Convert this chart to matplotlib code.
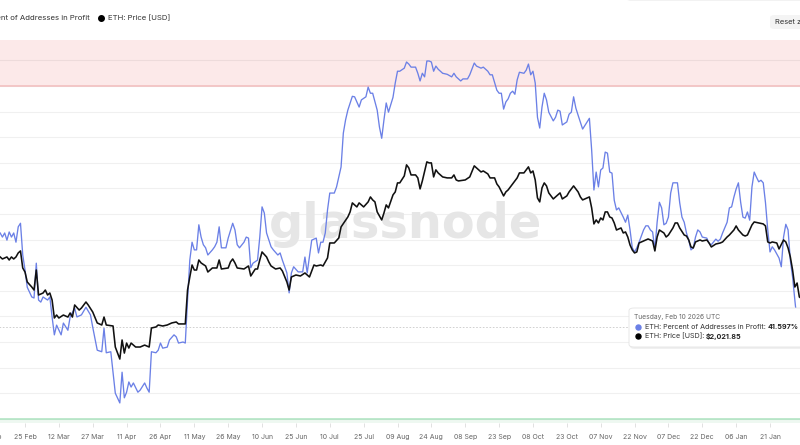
import matplotlib
matplotlib.use("Agg")
import matplotlib.pyplot as plt
from matplotlib.patches import FancyBboxPatch
from matplotlib.lines import Line2D
import pandas as pd

# ---------------- data ----------------
start_date = "2025-02-14"

blue_day = [0, 1, 2, 3, 4, 5, 6, 7, 8, 9, 10, 11, 12, 14, 15, 16, 17, 18, 19, 21, 22, 23, 24, 25, 27, 28, 30, 31, 33, 34,
            36, 38, 40, 41, 43, 45, 46, 47, 49, 50, 51, 53, 54, 55, 56, 57, 58, 59, 61, 62, 64, 65, 66, 67, 69, 70, 71, 72,
            74, 75, 77, 78, 79, 81, 82, 83, 84, 85, 86, 87, 88, 89, 90, 91, 92, 94, 95, 96, 97, 98, 100, 101, 103, 104, 105,
            106, 108, 109, 110, 111, 112, 114, 115, 116, 117, 118, 120, 121, 123, 124, 125, 127, 128, 129, 130, 132, 134,
            135, 136, 138, 140, 141, 142, 143, 144, 145, 146, 148, 149, 151, 152, 153, 154, 156, 157, 159, 160, 162, 163,
            164, 165, 167, 168, 169, 170, 171, 172, 174, 175, 176, 177, 179, 180, 181, 182, 184, 185, 186, 187, 188, 189,
            190, 191, 192, 193, 194, 196, 198, 200, 201, 202, 203, 204, 205, 207, 208, 210, 211, 213, 214, 216, 217, 218,
            220, 221, 222, 223, 224, 225, 226, 227, 228, 229, 230, 232, 233, 234, 235, 236, 237, 238, 239, 240, 241, 242,
            243, 245, 246, 247, 248, 249, 251, 252, 253, 254, 255, 256, 258, 260, 261, 262, 263, 264, 265, 266, 267, 268,
            269, 270, 271, 272, 273, 274, 276, 277, 278, 279, 280, 281, 282, 283, 285, 286, 287, 288, 289, 290, 291, 292,
            293, 294, 295, 296, 297, 298, 300, 301, 302, 303, 304, 305, 306, 307, 308, 309, 310, 311, 313, 314, 315, 317,
            318, 319, 320, 322, 323, 324, 325, 326, 327, 328, 329, 330, 331, 332, 333, 334, 335, 336, 337, 338, 339, 340,
            341, 342, 343, 345, 346, 347, 348, 349, 350, 351, 352, 353, 361]
blue_pct = [61.3, 60.5, 61.3, 59.9, 61.5, 60.5, 61.3, 59.5, 62.5, 63.2, 57.0, 54.1, 50.7, 48.8, 48.6, 55.4, 48.2, 47.8,
            48.8, 48.2, 48.8, 44.9, 41.4, 43.3, 41.4, 43.7, 42.3, 44.9, 46.6, 44.9, 45.3, 46.8, 45.3, 42.9, 38.4, 38.1,
            42.7, 37.9, 38.1, 34.0, 30.0, 28.1, 34.1, 29.1, 30.2, 32.2, 31.2, 32.0, 30.2, 30.6, 32.0, 31.0, 30.2, 38.1,
            37.9, 38.4, 39.8, 38.8, 39.0, 40.4, 41.4, 41.0, 39.8, 40.0, 39.8, 48.2, 56.0, 59.5, 58.0, 58.0, 62.9, 60.5,
            59.0, 58.4, 57.0, 58.0, 58.6, 59.5, 62.5, 58.4, 58.4, 60.3, 63.2, 61.9, 59.0, 58.4, 59.5, 60.5, 60.3, 54.5,
            55.4, 56.0, 60.5, 66.4, 65.2, 61.3, 58.6, 58.0, 57.0, 57.4, 56.0, 53.5, 49.6, 53.5, 54.7, 53.7, 53.7, 56.6,
            53.5, 59.9, 60.3, 57.4, 59.5, 59.5, 61.3, 65.8, 69.1, 69.1, 70.3, 74.2, 80.8, 83.4, 85.3, 88.0, 87.9, 85.9,
            87.3, 87.9, 89.8, 88.6, 88.6, 85.3, 82.0, 79.8, 83.4, 86.7, 84.9, 87.8, 90.6, 92.9, 92.9, 93.5, 94.7, 94.3,
            93.7, 93.7, 92.5, 91.0, 92.5, 91.8, 94.9, 94.9, 94.7, 92.9, 93.9, 93.3, 92.5, 92.3, 91.8, 92.5, 91.8, 91.4,
            91.0, 91.4, 91.4, 92.2, 94.5, 93.9, 93.5, 93.7, 92.9, 92.2, 92.2, 89.2, 88.6, 88.6, 85.5, 86.9, 87.5, 88.6,
            89.0, 88.4, 91.2, 92.7, 92.5, 93.1, 94.3, 92.2, 92.9, 90.6, 83.9, 81.8, 85.9, 88.6, 87.3, 84.9, 83.2, 83.9,
            85.3, 85.1, 82.4, 83.0, 84.5, 84.9, 87.9, 85.7, 84.3, 81.6, 83.0, 83.7, 77.5, 69.7, 73.2, 70.3, 73.6, 74.0,
            77.1, 76.9, 73.2, 73.0, 67.7, 65.8, 66.2, 64.4, 63.4, 64.8, 61.9, 58.4, 57.6, 58.4, 59.5, 61.9, 62.7, 62.7,
            61.9, 61.5, 58.0, 63.4, 67.3, 66.2, 62.9, 63.2, 64.4, 69.1, 71.1, 71.1, 67.2, 64.4, 63.4, 61.3, 59.9, 58.0,
            58.4, 60.5, 61.9, 61.5, 60.5, 60.3, 59.3, 59.0, 60.1, 59.7, 60.1, 61.3, 63.4, 66.2, 66.4, 68.3, 69.9, 71.1,
            67.3, 64.4, 64.2, 65.4, 63.8, 70.3, 73.2, 72.2, 71.3, 71.6, 71.1, 67.2, 61.9, 57.6, 58.6, 58.0, 56.4, 54.7,
            60.5, 63.0, 61.9, 56.0, 52.7, 48.2, 44.0, 41.597]

price_day = [0, 1, 3, 4, 5, 6, 7, 8, 9, 10, 11, 12, 14, 15, 16, 17, 19, 20, 21, 22, 23, 24, 25, 26, 28, 30, 31, 32, 33,
             35, 36, 38, 39, 41, 43, 45, 46, 47, 50, 51, 53, 54, 55, 56, 57, 58, 60, 62, 64, 66, 67, 69, 70, 72, 74, 76,
             78, 79, 82, 83, 84, 85, 86, 87, 88, 89, 91, 92, 94, 96, 97, 98, 101, 102, 103, 104, 105, 108, 110, 111, 113,
             114, 115, 116, 118, 119, 120, 122, 124, 125, 127, 128, 129, 131, 133, 135, 137, 139, 140, 142, 143, 145, 146,
             148, 150, 151, 154, 155, 156, 158, 159, 161, 163, 164, 165, 166, 167, 169, 170, 171, 172, 174, 175, 176, 177,
             179, 180, 181, 182, 184, 185, 186, 187, 189, 190, 191, 192, 193, 194, 196, 198, 200, 201, 202, 203, 206, 208,
             210, 211, 213, 214, 216, 217, 219, 220, 221, 223, 224, 225, 227, 229, 230, 232, 233, 234, 235, 236, 237, 238,
             239, 240, 241, 242, 243, 245, 247, 248, 249, 251, 252, 254, 256, 257, 258, 260, 261, 262, 263, 264, 265, 266,
             267, 268, 269, 270, 271, 272, 273, 275, 276, 277, 278, 279, 280, 281, 282, 283, 285, 287, 288, 289, 290, 291,
             292, 294, 295, 296, 298, 299, 300, 301, 303, 304, 305, 306, 307, 308, 310, 311, 313, 314, 315, 317, 319, 320,
             322, 323, 325, 326, 327, 329, 330, 331, 333, 334, 336, 338, 339, 340, 341, 342, 344, 345, 347, 348, 349, 350,
             351, 352, 353, 354, 361]
price_usd = [2759, 2725, 2759, 2708, 2759, 2725, 2759, 2828, 2863, 2578, 2515, 2365, 2293, 2251, 2546, 2183, 2210, 2251,
             2183, 2210, 2117, 1895, 1930, 1895, 1930, 1906, 1954, 1906, 2053, 1990, 2015, 2091, 2053, 1966, 1838, 1815,
             1906, 1815, 1804, 1585, 1472, 1655, 1527, 1624, 1575, 1624, 1585, 1585, 1604, 1585, 1782, 1793, 1815, 1804,
             1815, 1838, 1849, 1827, 1827, 2251, 2439, 2626, 2546, 2546, 2708, 2659, 2610, 2515, 2578, 2578, 2708, 2562,
             2578, 2675, 2725, 2659, 2578, 2562, 2610, 2454, 2562, 2562, 2708, 2845, 2759, 2675, 2610, 2562, 2578, 2531,
             2365, 2251, 2439, 2469, 2454, 2500, 2439, 2626, 2610, 2626, 2610, 2742, 3007, 3007, 3101, 3319, 3529, 3640,
             3848, 3754, 3848, 3754, 3872, 3992, 3919, 3872, 3640, 3465, 3617, 3801, 3731, 4042, 4117, 4352, 4352, 4543,
             4863, 4773, 4571, 4571, 4488, 4194, 4405, 4953, 4922, 4922, 4515, 4715, 4628, 4515, 4488, 4488, 4571, 4432,
             4405, 4432, 4515, 4833, 4773, 4655, 4684, 4600, 4488, 4488, 4325, 4246, 4017, 4117, 4168, 4325, 4488, 4628,
             4628, 4715, 4803, 4628, 4684, 4432, 3967, 3872, 4220, 4352, 4272, 4092, 3943, 4042, 4092, 3943, 4017, 4117,
             4272, 4117, 3992, 3919, 3967, 3992, 3731, 3381, 3465, 3401, 3507, 3465, 3640, 3640, 3529, 3507, 3401, 3257,
             3298, 3198, 3218, 3120, 2970, 2880, 2828, 2845, 3007, 3044, 3082, 3063, 3044, 2863, 3120, 3257, 3198, 3120,
             3158, 3298, 3401, 3401, 3298, 3158, 3139, 3063, 2934, 2916, 3026, 3063, 3044, 3063, 3007, 2934, 2988, 3007,
             3026, 3120, 3158, 3257, 3339, 3257, 3158, 3139, 3158, 3360, 3422, 3401, 3381, 3339, 3026, 3007, 3026, 3007,
             2898, 3063, 3026, 2916, 2759, 2546, 2293, 2350, 2156, 2021.85]

series_pct_name = "ETH: Percent of Addresses in Profit"
series_price_name = "ETH: Price [USD]"
tick_start = "2025-02-10"
tick_every_days = 15
tick_count = 24
red_zone = (90, 100)
green_level = 25
grid_levels = list(range(25, 100, 5))
hover_title = "Tuesday, Feb 10 2026 UTC"
hover_pct_text = "41.597%"
hover_price_text = "$2,021.85"
hover_line_pct = 42.9

# ---------------- styling ----------------
W, H = 800, 445
BLUE = "#6b80e6"
BLACK = "#111111"
FONT = "Inter"
TIP_FS = 5.15


def fx(px):
    return px / W


def fy(py):
    return 1 - py / H


fig = plt.figure(figsize=(W / 100, H / 100), dpi=100)
fig.patch.set_facecolor("white")

# the reference is a crop, so the axes runs a little past both picture edges
ax = fig.add_axes([fx(-20), fy(423), 840 / W, 383 / H])
ax.patch.set_alpha(0)

base = pd.Timestamp(start_date)
px_per_day = 2.2576
x0_day = 0.166
left = base + pd.Timedelta(days=(-20 - x0_day) / px_per_day)
right = base + pd.Timedelta(days=(820 - x0_day) / px_per_day)

blue_dates = base + pd.to_timedelta(blue_day, unit="D")
price_dates = base + pd.to_timedelta(price_day, unit="D")

ax.set_xlim(left, right)
ax.set_ylim(24.18, 99.0)

# zones
ax.axhspan(red_zone[0], red_zone[1], color="#fce9e9", zorder=0.1, lw=0)
ax.axhline(red_zone[0], color="#f2bcbc", lw=1.1, zorder=0.8)
ax.axhspan(0, green_level, color="#eef8f1", zorder=0.1, lw=0)
ax.axhline(green_level, color="#ace3c0", lw=1.1, zorder=0.8)

ax.set_yticks(grid_levels)
ax.yaxis.grid(True, color="black", alpha=0.06, lw=0.8, zorder=0.5)
ax.set_axisbelow(True)
ax.tick_params(axis="y", left=False, labelleft=False)
for s in ax.spines.values():
    s.set_visible(False)

ax.axhline(hover_line_pct, xmax=(629 + 20) / 840, color="#c9c9c9", lw=0.6, ls=(0, (2, 2)), zorder=0.9)

ticks = pd.date_range(tick_start, periods=tick_count, freq=f"{tick_every_days}D")
ax.set_xticks(ticks)
ax.set_xticklabels([t.strftime("%d %b") for t in ticks], fontsize=5.0, color="#666666", family=FONT)
ax.tick_params(axis="x", length=3, width=0.6, color="#dcdcdc", pad=5)

ax.text(fx(406), fy(238), "glassnode", transform=fig.transFigure, ha="center", va="baseline",
        fontsize=34.5, fontweight="bold", family="DejaVu Sans", color="#e6e6e6", zorder=1)

ax.plot(blue_dates, blue_pct, color=BLUE, lw=0.95, zorder=3)

ax2 = ax.twinx()
ax2.set_yscale("log")
ax2.set_ylim(993, 10487)
ax2.plot(price_dates, price_usd, color=BLACK, lw=1.15, zorder=3)
ax2.tick_params(axis="y", which="both", right=False, labelright=False)
for s in ax2.spines.values():
    s.set_visible(False)

# ---------------- legend (cropped at the left) ----------------
renderer = fig.canvas.get_renderer()
leg1 = fig.text(fx(90), fy(18), series_pct_name, ha="right", va="center", fontsize=5.6, color="#333333", family=FONT)
bb = leg1.get_window_extent(renderer)
fig.add_artist(Line2D([(bb.x0 - 7) / W], [fy(18)], marker="o", ms=4, color=BLUE, transform=fig.transFigure))
fig.add_artist(Line2D([fx(101.5)], [fy(18)], marker="o", ms=4, color="black", transform=fig.transFigure))
fig.text(fx(108), fy(18), series_price_name, ha="left", va="center", fontsize=5.6, color="#333333", family=FONT)

# top toolbar edge and reset button
fig.add_artist(FancyBboxPatch((fx(627), fy(1)), fx(200), 0.05, boxstyle="round,pad=0,rounding_size=0.005",
                              transform=fig.transFigure, facecolor="#f2f2f2", edgecolor="none"))
fig.add_artist(FancyBboxPatch((fx(770), fy(29)), fx(50), 14 / H, boxstyle="round,pad=0,rounding_size=0.006",
                              transform=fig.transFigure, facecolor="#f4f4f4", edgecolor="none"))
fig.text(fx(775), fy(21.5), "Reset zoom", ha="left", va="center", fontsize=5.4, color="#333333", family=FONT)

# ---------------- tooltip ----------------
fig.add_artist(FancyBboxPatch((fx(630), fy(349)), fx(200), 40 / H, boxstyle="round,pad=0,rounding_size=0.006",
                              transform=fig.transFigure, facecolor=(0, 0, 0, 0.06), edgecolor="none"))
fig.add_artist(FancyBboxPatch((fx(629), fy(347)), fx(200), 39 / H, boxstyle="round,pad=0,rounding_size=0.006",
                              transform=fig.transFigure, facecolor="white", edgecolor="#e4e4e4", lw=0.6))
fig.text(fx(634), fy(316.5), hover_title, ha="left", va="center", fontsize=4.8, color="#666666", family=FONT)
fig.add_artist(Line2D([fx(637.5)], [fy(326.5)], marker="o", ms=3.6, color=BLUE, transform=fig.transFigure))
fig.add_artist(Line2D([fx(637.5)], [fy(336)], marker="o", ms=3.6, color="black", transform=fig.transFigure))
t1 = fig.text(fx(645), fy(327), series_pct_name + ": ", ha="left", va="center", fontsize=TIP_FS,
              color="#333333", family=FONT)
b1 = t1.get_window_extent(renderer)
fig.text(b1.x1 / W, fy(327), hover_pct_text, ha="left", va="center", fontsize=TIP_FS, fontweight="bold",
         color="#222222", family=FONT)
t2 = fig.text(fx(645), fy(336), series_price_name + ": ", ha="left", va="center", fontsize=TIP_FS,
              color="#333333", family=FONT)
b2 = t2.get_window_extent(renderer)
fig.text(b2.x1 / W, fy(336), hover_price_text, ha="left", va="center", fontsize=TIP_FS, fontweight="bold",
         color="#222222", family=FONT)

fig.savefig("out.png", dpi=100)
